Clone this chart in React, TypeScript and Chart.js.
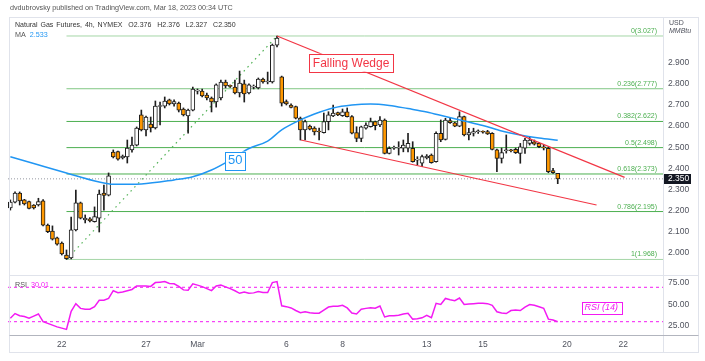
import React, { useEffect, useRef } from 'react';
import { Chart, registerables } from 'chart.js';

Chart.register(...registerables);

// ---- candle data (4h bars, index 0 = leftmost visible bar) ----
const opens = [2.212,2.240,2.283,2.250,2.242,2.226,2.226,2.246,2.131,2.103,
2.070,2.046,1.989,1.975,2.108,2.236,2.155,2.161,2.147,2.164,
2.283,2.273,2.477,2.479,2.449,2.454,2.487,2.510,2.653,2.582,
2.610,2.591,2.693,2.695,2.724,2.705,2.709,2.681,2.648,2.676,
2.766,2.766,2.747,2.733,2.714,2.733,2.809,2.790,2.785,2.757,
2.800,2.757,2.785,2.781,2.823,2.809,2.809,2.984,2.833,2.716,
2.700,2.692,2.638,2.582,2.600,2.591,2.574,2.569,2.621,2.648,
2.664,2.649,2.668,2.645,2.569,2.542,2.590,2.597,2.621,2.605,
2.629,2.471,2.495,2.495,2.495,2.495,2.495,2.439,2.424,2.449,
2.463,2.431,2.566,2.537,2.626,2.616,2.600,2.645,2.558,2.566,
2.573,2.572,2.574,2.566,2.487,2.447,2.483,2.484,2.490,2.471,
2.495,2.518,2.526,2.518,2.499,2.495,2.389,2.376];

const highs = [2.250,2.289,2.288,2.253,2.245,2.228,2.258,2.252,2.136,2.127,
2.074,2.051,2.013,2.169,2.297,2.240,2.179,2.166,2.217,2.297,
2.321,2.378,2.487,2.482,2.463,2.534,2.548,2.596,2.676,2.648,
2.643,2.719,2.714,2.738,2.728,2.724,2.714,2.686,2.681,2.785,
2.776,2.776,2.757,2.738,2.800,2.818,2.818,2.795,2.818,2.861,
2.818,2.800,2.795,2.828,2.828,2.856,2.989,3.027,2.837,2.724,
2.705,2.695,2.643,2.629,2.605,2.597,2.591,2.662,2.668,2.700,
2.667,2.681,2.686,2.650,2.597,2.600,2.615,2.638,2.624,2.645,
2.634,2.502,2.505,2.526,2.534,2.566,2.526,2.455,2.463,2.465,
2.468,2.573,2.629,2.637,2.637,2.619,2.668,2.648,2.590,2.590,
2.582,2.578,2.580,2.569,2.491,2.496,2.558,2.490,2.496,2.518,
2.542,2.550,2.534,2.522,2.510,2.500,2.400,2.376];

const lows = [2.202,2.236,2.226,2.226,2.207,2.207,2.221,2.127,2.095,2.060,
2.036,1.989,1.968,1.970,2.103,2.160,2.141,2.146,2.145,2.098,
2.202,2.269,2.449,2.439,2.444,2.425,2.477,2.506,2.577,2.553,
2.572,2.586,2.605,2.686,2.700,2.695,2.667,2.648,2.567,2.672,
2.752,2.738,2.724,2.667,2.690,2.724,2.781,2.783,2.752,2.738,
2.714,2.752,2.776,2.776,2.804,2.800,2.804,2.975,2.695,2.700,
2.686,2.634,2.534,2.534,2.582,2.558,2.534,2.567,2.582,2.645,
2.650,2.646,2.643,2.563,2.526,2.526,2.586,2.595,2.582,2.597,
2.468,2.468,2.490,2.463,2.478,2.478,2.429,2.416,2.408,2.444,
2.424,2.429,2.526,2.534,2.613,2.597,2.597,2.553,2.534,2.553,
2.565,2.566,2.560,2.487,2.384,2.425,2.472,2.478,2.470,2.424,
2.471,2.510,2.510,2.498,2.487,2.379,2.376,2.327];

const closes = [2.240,2.283,2.245,2.231,2.210,2.212,2.242,2.131,2.100,2.064,
2.041,1.994,1.972,2.108,2.236,2.164,2.164,2.151,2.171,2.278,
2.271,2.364,2.454,2.443,2.458,2.496,2.510,2.591,2.582,2.643,
2.591,2.695,2.695,2.719,2.705,2.716,2.676,2.653,2.676,2.776,
2.768,2.743,2.733,2.714,2.795,2.809,2.790,2.788,2.757,2.804,
2.752,2.795,2.787,2.823,2.809,2.811,2.984,3.017,2.709,2.705,
2.689,2.637,2.582,2.621,2.586,2.572,2.572,2.621,2.653,2.662,
2.653,2.668,2.645,2.566,2.542,2.597,2.605,2.621,2.602,2.629,
2.471,2.495,2.497,2.497,2.510,2.518,2.431,2.441,2.455,2.458,
2.427,2.566,2.534,2.629,2.616,2.600,2.645,2.558,2.569,2.574,
2.575,2.571,2.563,2.490,2.447,2.474,2.486,2.483,2.474,2.502,
2.534,2.534,2.514,2.502,2.497,2.384,2.379,2.350];

// 50-period moving average, read at sample bars
const maIdx = [0,5,12,19,22,28,35,39,43,47,51,55,58,61,65,69,73,77,81,85,89,93,97,101,105,109,113,117];
const maVals = [2.455,2.423,2.378,2.335,2.324,2.326,2.345,2.360,2.392,2.439,2.494,2.529,2.582,2.619,2.657,2.686,2.700,2.705,2.698,2.683,2.667,2.645,2.624,2.603,2.577,2.558,2.544,2.533];

// RSI(14), one per bar
const rsiVals = [34,39.5,37,36,34,36.5,39,30,28,26,
24,22.5,21,42,51,45.5,44.5,44.5,47.5,55,
55,57,66,63.8,64.5,66,67.5,71.6,71.6,71.6,
71,75.5,76,76.6,74.5,74,71,67,66.5,74,
72.5,70.8,68.5,66.1,71.5,72.5,70.5,68.5,66,63,
64.5,63,63.5,65,64,64,75.5,76.6,48.5,47.5,
46,43,40.5,41.6,40.5,39.9,39.9,43.5,47,48,
48,49,46,40,39,44.4,45.5,46.3,45.7,48.2,
35.5,37,37,37.5,39,39.7,33,33.5,34.5,37.4,
34.7,51.4,50,57,55.5,54.5,57.5,50,50.5,51,
51.4,51.4,51,49,41.5,40,39.5,43,43.5,43,
47,50,49,47.4,45.6,33,32,30.01];
const rsiBands = [70, 30];
const rsiTicks = [75, 50, 25];

// Fibonacci retracement (from the Feb 22 low bar to the Mar 3 high bar)
const fibRatios = [0, 0.236, 0.382, 0.5, 0.618, 0.786, 1];
const fibPrices = [3.027, 2.777, 2.622, 2.498, 2.373, 2.195, 1.968];
const fibLowIdx = 12;
const fibHighIdx = 57;

// Falling wedge trendlines: [startBar, endBar] / [startPrice, endPrice]
const wedgeUpperIdx = [57, 131.3];
const wedgeUpperPx = [3.027, 2.357];
const wedgeLowerIdx = [62.1, 125.3];
const wedgeLowerPx = [2.534, 2.226];

const lastPrice = 2.35;
const maLast = 2.533;
const rsiLast = 30.01;

const priceTicks = [2.0, 2.1, 2.2, 2.3, 2.4, 2.5, 2.6, 2.7, 2.8, 2.9];
const timeTickIdx = [11, 29, 40, 59, 71, 89, 101, 119, 131];
const timeTickLabels = ['22', '27', 'Mar', '6', '8', '13', '15', '20', '22'];

// ---- styles ----
const X_MIN = -0.5;
const X_MAX = 139.5;
const FONT = '"Liberation Sans", Arial, sans-serif';
const AXIS_TEXT = '#50535e';
const FIB_LINE_COLORS = ['#a5d6a7', '#81c784', '#4caf50', '#4caf50', '#4caf50', '#4caf50', '#a5d6a7'];
const RED = '#f23645';
const BLUE = '#2196f3';
const MAGENTA = '#f31af3';

const seg = (i0: number, i1: number, p0: number, p1: number) => [
  { x: i0, y: p0 },
  { x: i1, y: p1 },
];

function box(ctx: CanvasRenderingContext2D, text: string, font: string, color: string, left: number, top: number, h: number, padX: number) {
  ctx.font = font;
  const w = ctx.measureText(text).width + padX * 2;
  ctx.fillStyle = '#ffffff';
  ctx.fillRect(left, top, w, h);
  ctx.strokeStyle = color;
  ctx.lineWidth = 1;
  ctx.strokeRect(Math.round(left) + 0.5, Math.round(top) + 0.5, Math.round(w), Math.round(h));
  ctx.fillStyle = color;
  ctx.textAlign = 'left';
  ctx.textBaseline = 'middle';
  ctx.fillText(text, left + padX, top + h / 2 + 0.5);
}

const overlayPlugin = {
  id: 'overlay',
  afterDraw(chart: any) {
    const { ctx, scales, chartArea: ca } = chart;
    const xs = scales.x;
    const ys = scales.y;
    const yr = scales.yR;
    ctx.save();

    const line = (x1: number, y1: number, x2: number, y2: number) => {
      ctx.beginPath();
      ctx.moveTo(x1, y1);
      ctx.lineTo(x2, y2);
      ctx.stroke();
    };

    // frame & pane separators
    ctx.lineWidth = 1;
    ctx.strokeStyle = '#e0e3eb';
    ctx.strokeRect(9.5, 17.5, 689, 335);
    line(ca.right + 0.5, 17.5, ca.right + 0.5, 352.5);
    line(9.5, 275.5, 698.5, 275.5);
    ctx.strokeStyle = '#b2b5be';
    line(9.5, ca.bottom - 0.5, 698.5, ca.bottom - 0.5);

    // fib labels
    ctx.font = `7px ${FONT}`;
    ctx.fillStyle = '#4caf50';
    ctx.textAlign = 'right';
    ctx.textBaseline = 'alphabetic';
    fibRatios.forEach((r, k) => {
      ctx.fillText(`${r}(${fibPrices[k].toFixed(3)})`, 657, ys.getPixelForValue(fibPrices[k]) - 3);
    });

    // annotation boxes
    box(ctx, 'Falling Wedge', `12px ${FONT}`, RED, xs.getPixelForValue(63.8), ys.getPixelForValue(2.943), 18, 4);
    box(ctx, '50', `13px ${FONT}`, BLUE, xs.getPixelForValue(45.9), ys.getPixelForValue(2.479), 17.5, 3);
    box(ctx, 'RSI (14)', `italic 9px ${FONT}`, MAGENTA, xs.getPixelForValue(122.1), yr.getPixelForValue(53.3), 11.5, 3);

    // RSI axis labels
    ctx.font = `8.5px ${FONT}`;
    ctx.fillStyle = AXIS_TEXT;
    ctx.textAlign = 'left';
    ctx.textBaseline = 'middle';
    rsiTicks.forEach((v) => ctx.fillText(v.toFixed(2), ca.right + 5, yr.getPixelForValue(v)));

    // unit labels
    ctx.font = `7px ${FONT}`;
    ctx.fillText('USD', ca.right + 6, 23.5);
    ctx.font = `italic 7px ${FONT}`;
    ctx.fillText('MMBtu', ca.right + 6, 31);

    // last price label
    const py = ys.getPixelForValue(lastPrice);
    ctx.fillStyle = '#131722';
    ctx.fillRect(ca.right + 1, Math.round(py) - 5, 27, 10);
    ctx.fillStyle = '#ffffff';
    ctx.font = `8.5px ${FONT}`;
    ctx.fillText(lastPrice.toFixed(3), ca.right + 5, Math.round(py));

    ctx.restore();
  },
};

export default function App() {
  const ref = useRef<HTMLCanvasElement>(null);

  useEffect(() => {
    if (!ref.current) return;
    const idx = closes.map((_, i) => i);
    const bodies = idx.map((i) => ({ x: i, y: [opens[i], closes[i]] }));
    const wicks = idx.map((i) => ({ x: i, y: [lows[i], highs[i]] }));
    const bodyColors = idx.map((i) => (closes[i] >= opens[i] ? '#ffffff' : '#ff9800'));

    const datasets: any[] = [
      ...fibPrices.map((p, k) => ({
        type: 'line',
        data: seg(fibLowIdx, X_MAX, p, p),
        borderColor: FIB_LINE_COLORS[k],
        borderWidth: 1,
        pointRadius: 0,
        order: 10,
      })),
      {
        type: 'line',
        data: seg(fibLowIdx, fibHighIdx, fibPrices[6], fibPrices[0]),
        borderColor: '#4caf50',
        borderDash: [1.5, 4],
        borderWidth: 1.2,
        pointRadius: 0,
        order: 9,
      },
      {
        type: 'line',
        data: seg(X_MIN, X_MAX, lastPrice, lastPrice),
        borderColor: '#9598a1',
        borderDash: [1, 2],
        borderWidth: 1,
        pointRadius: 0,
        order: 9,
      },
      {
        type: 'bar',
        data: wicks,
        backgroundColor: '#1e1e1e',
        borderWidth: 0,
        barThickness: 1,
        grouped: false,
        order: 6,
      },
      {
        type: 'bar',
        data: bodies,
        backgroundColor: bodyColors,
        borderColor: '#1e1e1e',
        borderWidth: 1,
        borderSkipped: false,
        barThickness: 4,
        minBarLength: 1,
        grouped: false,
        order: 5,
      },
      {
        type: 'line',
        data: maIdx.map((i, k) => ({ x: i, y: maVals[k] })),
        borderColor: BLUE,
        borderWidth: 1.5,
        pointRadius: 0,
        cubicInterpolationMode: 'monotone',
        order: 3,
      },
      {
        type: 'line',
        data: seg(wedgeUpperIdx[0], wedgeUpperIdx[1], wedgeUpperPx[0], wedgeUpperPx[1]),
        borderColor: RED,
        borderWidth: 1.2,
        pointRadius: 0,
        order: 2,
      },
      {
        type: 'line',
        data: seg(wedgeLowerIdx[0], wedgeLowerIdx[1], wedgeLowerPx[0], wedgeLowerPx[1]),
        borderColor: RED,
        borderWidth: 1.2,
        pointRadius: 0,
        order: 2,
      },
      ...rsiBands.map((b) => ({
        type: 'line',
        yAxisID: 'yR',
        data: seg(X_MIN, X_MAX, b, b),
        borderColor: MAGENTA,
        borderDash: [3, 3],
        borderWidth: 1,
        pointRadius: 0,
        order: 2,
      })),
      {
        type: 'line',
        yAxisID: 'yR',
        data: rsiVals.map((v, i) => ({ x: i, y: v })),
        borderColor: MAGENTA,
        borderWidth: 1.5,
        pointRadius: 0,
        tension: 0,
        order: 1,
      },
    ];

    const chart = new Chart(ref.current, {
      type: 'bar',
      data: { datasets },
      plugins: [overlayPlugin],
      options: {
        animation: false,
        responsive: false,
        devicePixelRatio: 1,
        events: [],
        layout: { padding: { left: 8, top: 18, right: 0, bottom: 0 } },
        plugins: { legend: { display: false }, tooltip: { enabled: false } },
        scales: {
          x: {
            type: 'linear',
            min: X_MIN,
            max: X_MAX,
            offset: false,
            grid: { display: false, drawTicks: false },
            border: { display: false },
            afterFit: (s: any) => {
              s.height = 25;
            },
            afterBuildTicks: (s: any) => {
              s.ticks = timeTickIdx.map((v) => ({ value: v }));
            },
            ticks: {
              autoSkip: false,
              maxRotation: 0,
              padding: 4,
              color: AXIS_TEXT,
              font: { family: FONT, size: 8.5 },
              callback: (_v: any, i: number) => timeTickLabels[i],
            },
          },
          y: {
            type: 'linear',
            position: 'right',
            min: 1.6052,
            max: 3.1123,
            grid: { display: false, drawTicks: false },
            border: { display: false },
            afterFit: (s: any) => {
              s.width = 42;
            },
            afterBuildTicks: (s: any) => {
              s.ticks = priceTicks.map((v) => ({ value: v }));
            },
            ticks: {
              padding: 5,
              color: AXIS_TEXT,
              font: { family: FONT, size: 8.5 },
              callback: (v: any) => Number(v).toFixed(3),
            },
          },
          yR: {
            type: 'linear',
            position: 'right',
            display: false,
            min: 13.37,
            max: 383.1,
          },
        },
      } as any,
    });
    return () => chart.destroy();
  }, []);

  const txt: React.CSSProperties = {
    position: 'absolute',
    fontFamily: FONT,
    whiteSpace: 'nowrap',
    lineHeight: '1',
  };

  return (
    <div style={{ position: 'fixed', left: 0, top: 0, width: 705, height: 361, background: '#fff', overflow: 'hidden' }}>
      <canvas ref={ref} width={705} height={361} style={{ position: 'absolute', left: 0, top: 0, width: 705, height: 361 }} />
      <div style={{ ...txt, left: 10, top: 3.5, fontSize: 7.2, color: '#555' }}>
        dvdubrovsky published on TradingView.com, Mar 18, 2023 00:34 UTC
      </div>
      <div style={{ ...txt, left: 15, top: 21, fontSize: 7, color: '#333', wordSpacing: 1 }}>
        Natural Gas Futures, 4h, NYMEX&nbsp; O{opens[opens.length - 1].toFixed(3)}&nbsp; H{highs[highs.length - 1].toFixed(3)}&nbsp; L
        {lows[lows.length - 1].toFixed(3)}&nbsp; C{closes[closes.length - 1].toFixed(3)}
      </div>
      <div style={{ ...txt, left: 15, top: 30.5, fontSize: 7.2, color: '#555' }}>
        MA&nbsp; <span style={{ color: BLUE }}>{maLast.toFixed(3)}</span>
      </div>
      <div style={{ ...txt, left: 15, top: 280.5, fontSize: 7.2, color: '#555' }}>
        RSI&nbsp; <span style={{ color: MAGENTA }}>{rsiLast.toFixed(2)}</span>
      </div>
    </div>
  );
}
